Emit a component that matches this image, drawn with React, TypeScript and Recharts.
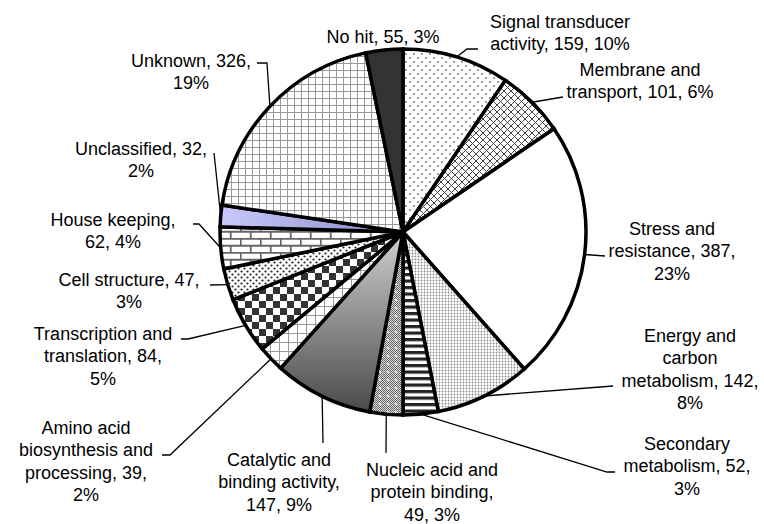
import React from "react";
import { PieChart, Pie, Cell } from "recharts";

// categories clockwise from 12 o'clock
const categories = [
  "Signal transducer activity",
  "Membrane and transport",
  "Stress and resistance",
  "Energy and carbon metabolism",
  "Secondary metabolism",
  "Nucleic acid and protein binding",
  "Catalytic and binding activity",
  "Amino acid biosynthesis and processing",
  "Transcription and translation",
  "Cell structure",
  "House keeping",
  "Unclassified",
  "Unknown",
  "No hit",
];
const counts = [159, 101, 387, 142, 52, 49, 147, 39, 84, 47, 62, 32, 326, 55];
const percents = [10, 6, 23, 8, 3, 3, 9, 2, 5, 3, 4, 2, 19, 3];

// label text as wrapped in the figure
const labelText = [
  ["Signal transducer", "activity, 159, 10%"],
  ["Membrane and", "transport, 101, 6%"],
  ["Stress and", "resistance, 387,", "23%"],
  ["Energy and", "carbon", "metabolism, 142,", "8%"],
  ["Secondary", "metabolism, 52,", "3%"],
  ["Nucleic acid and", "protein binding,", "49, 3%"],
  ["Catalytic and", "binding activity,", "147, 9%"],
  ["Amino acid", "biosynthesis and", "processing, 39,", "2%"],
  ["Transcription and", "translation, 84,", "5%"],
  ["Cell structure, 47,", "3%"],
  ["House keeping,", "62, 4%"],
  ["Unclassified, 32,", "2%"],
  ["Unknown, 326,", "19%"],
  ["No hit, 55, 3%"],
];

const fills = [
  "url(#pSignal)",
  "url(#pMembrane)",
  "#ffffff",
  "url(#pEnergy)",
  "url(#pStripes)",
  "url(#pNucleic)",
  "url(#gCatalytic)",
  "url(#pAmino)",
  "url(#pChecker)",
  "url(#pCell)",
  "url(#pBrick)",
  "url(#gUnclass)",
  "url(#pUnknown)",
  "#333333",
];

// label placement: text centre x, first line centre y, leader elbows (label side first)
const labelLayout: { tx: number; ty: number; leader: number[][] }[] = [
  { tx: 560, ty: 22, leader: [[478, 49], [467, 49]] },
  { tx: 640, ty: 70, leader: [[563, 97]] },
  { tx: 672, ty: 229, leader: [[605, 256]] },
  { tx: 690, ty: 336, leader: [[613, 386]] },
  { tx: 687, ty: 444, leader: [[615, 472], [607, 472]] },
  { tx: 432, ty: 470, leader: [[386, 453]] },
  { tx: 279, ty: 460, leader: [[323, 443]] },
  { tx: 86, ty: 428, leader: [[162, 455], [170, 455]] },
  { tx: 103, ty: 334, leader: [[181, 339], [188, 339]] },
  { tx: 129, ty: 280, leader: [[210, 285]] },
  { tx: 113, ty: 220, leader: [[193, 224], [199, 224]] },
  { tx: 141, ty: 149, leader: [[214, 153]] },
  { tx: 191, ty: 61, leader: [[257, 63], [267, 63]] },
  { tx: 383, ty: 37, leader: [] },
];

const data = categories.map((name, i) => ({ name, value: counts[i], pct: percents[i] }));

const RAD = Math.PI / 180;
const FONT = "'Liberation Sans', Arial, sans-serif";

const renderLabel = (props: any) => {
  const { cx, cy, midAngle, outerRadius, index } = props;
  const mx = cx + outerRadius * Math.cos(-midAngle * RAD);
  const my = cy + outerRadius * Math.sin(-midAngle * RAD);
  const lay = labelLayout[index];
  const pts = lay.leader.length ? [...lay.leader, [mx, my]] : [];
  return (
    <g key={"lbl" + index}>
      {pts.length > 0 && (
        <polyline
          points={pts.map((p) => p.join(",")).join(" ")}
          fill="none"
          stroke="#000"
          strokeWidth={1.3}
        />
      )}
      <text textAnchor="middle" fontSize={18} fontFamily={FONT} fill="#000">
        {labelText[index].map((line, i) => (
          <tspan key={i} x={lay.tx} y={lay.ty + i * 22.3 + 6}>
            {line}
          </tspan>
        ))}
      </text>
    </g>
  );
};

export default function App() {
  return (
    <div style={{ position: "absolute", left: 0, top: 0, background: "#fff" }}>
      <PieChart width={764} height={524} margin={{ top: 0, right: 0, bottom: 0, left: 0 }}>
        <defs>
          <pattern id="pSignal" width="8" height="8" patternUnits="userSpaceOnUse">
            <rect width="8" height="8" fill="#fff" />
            <circle cx="2" cy="2" r="0.8" fill="#222" />
            <circle cx="6" cy="6" r="0.8" fill="#222" />
          </pattern>
          <pattern id="pMembrane" width="7" height="7" patternUnits="userSpaceOnUse">
            <rect width="7" height="7" fill="#fff" />
            <path d="M0,0 L7,7 M7,0 L0,7" stroke="#444" strokeWidth="1" />
          </pattern>
          <pattern id="pEnergy" width="3" height="3" patternUnits="userSpaceOnUse">
            <rect width="3" height="3" fill="#fff" />
            <circle cx="1.5" cy="1.5" r="0.9" fill="#888" />
          </pattern>
          <pattern id="pStripes" width="6" height="6.5" patternUnits="userSpaceOnUse">
            <rect width="6" height="6.5" fill="#fff" />
            <rect width="6" height="3.2" fill="#222" />
          </pattern>
          <pattern id="pFine" width="2" height="2" patternUnits="userSpaceOnUse">
            <rect width="2" height="2" fill="#ddd" />
            <rect width="1" height="1" fill="#666" />
            <rect x="1" y="1" width="1" height="1" fill="#666" />
          </pattern>
          <pattern id="pNucleic" width="8" height="8" patternUnits="userSpaceOnUse">
            <rect width="8" height="8" fill="url(#pFine)" />
            <circle cx="4" cy="4" r="1" fill="#fff" />
          </pattern>
          <linearGradient id="gCatalytic" x1="0" y1="0" x2="0" y2="1">
            <stop offset="0%" stopColor="#cfcfcf" />
            <stop offset="100%" stopColor="#4a4a4a" />
          </linearGradient>
          <pattern id="pAmino" width="9" height="9" patternUnits="userSpaceOnUse">
            <rect width="9" height="9" fill="#fff" />
            <path d="M0,0 H9 M0,0 V9" stroke="#999" strokeWidth="2" />
          </pattern>
          <pattern id="pChecker" width="14" height="14" patternUnits="userSpaceOnUse">
            <rect width="14" height="14" fill="#fff" />
            <rect width="7" height="7" fill="#333" />
            <rect x="7" y="7" width="7" height="7" fill="#333" />
          </pattern>
          <pattern id="pCell" width="6" height="6" patternUnits="userSpaceOnUse">
            <rect width="6" height="6" fill="#fff" />
            <circle cx="1.5" cy="1.5" r="1.1" fill="#222" />
            <circle cx="4.5" cy="4.5" r="1.1" fill="#222" />
          </pattern>
          <pattern id="pBrick" width="20" height="14" patternUnits="userSpaceOnUse">
            <rect width="20" height="14" fill="#fff" />
            <path d="M0,0.75 H20 M0,7.75 H20 M0.75,0 V7 M10.75,7 V14" stroke="#666" strokeWidth="1.8" />
          </pattern>
          <linearGradient id="gUnclass" x1="0" y1="0" x2="1" y2="0">
            <stop offset="0%" stopColor="#c8c8fc" />
            <stop offset="100%" stopColor="#8a8ac4" />
          </linearGradient>
          <pattern id="pUnknown" width="7" height="7" patternUnits="userSpaceOnUse">
            <rect width="7" height="7" fill="#fff" />
            <path d="M0,0 H7 M0,0 V7" stroke="#999" strokeWidth="2" />
          </pattern>
        </defs>
        <Pie
          data={data}
          dataKey="value"
          nameKey="name"
          cx={403}
          cy={232}
          outerRadius={183}
          startAngle={90}
          endAngle={-270}
          stroke="#000"
          strokeWidth={3.5}
          label={renderLabel}
          labelLine={false}
          isAnimationActive={false}
        >
          {data.map((d, i) => (
            <Cell key={d.name} fill={fills[i]} />
          ))}
        </Pie>
      </PieChart>
    </div>
  );
}
